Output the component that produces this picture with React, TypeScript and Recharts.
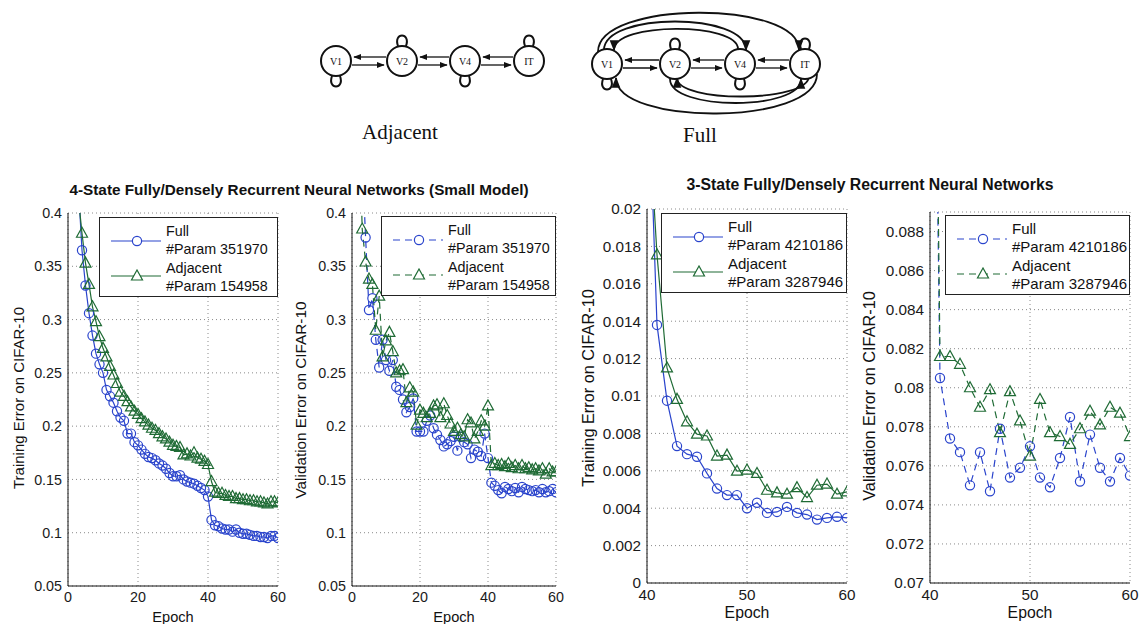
import React from "react";
import { CartesianGrid, Line, LineChart, XAxis, YAxis } from "recharts";

// small model, epochs 1..60
const smallEpochs = [
  1, 2, 3, 4, 5, 6, 7, 8, 9, 10, 11, 12, 13, 14, 15, 16, 17, 18, 19, 20,
  21, 22, 23, 24, 25, 26, 27, 28, 29, 30, 31, 32, 33, 34, 35, 36, 37, 38, 39, 40,
  41, 42, 43, 44, 45, 46, 47, 48, 49, 50, 51, 52, 53, 54, 55, 56, 57, 58, 59, 60,
];
const trainFullSmall = [
  0.62, 0.49, 0.423, 0.365, 0.332, 0.306, 0.285, 0.268, 0.258, 0.25,
  0.234, 0.228, 0.222, 0.214, 0.208, 0.205, 0.193, 0.193, 0.185, 0.182,
  0.178, 0.174, 0.171, 0.17, 0.168, 0.165, 0.163, 0.16, 0.156, 0.153,
  0.153, 0.154, 0.15, 0.148, 0.147, 0.146, 0.144, 0.142, 0.14, 0.134,
  0.112, 0.107, 0.106, 0.104, 0.103, 0.103, 0.101, 0.103, 0.1, 0.099,
  0.099, 0.098, 0.097, 0.097, 0.096, 0.096, 0.095, 0.097, 0.097, 0.095,
];
const trainAdjSmall = [
  0.64, 0.5, 0.413, 0.381, 0.353, 0.333, 0.312, 0.298, 0.284, 0.273,
  0.265, 0.256, 0.248, 0.24, 0.232, 0.228, 0.223, 0.218, 0.214, 0.211,
  0.207, 0.204, 0.201, 0.198, 0.196, 0.193, 0.19, 0.188, 0.185, 0.182,
  0.181, 0.18, 0.173, 0.174, 0.172, 0.175, 0.17, 0.169, 0.167, 0.164,
  0.148, 0.138, 0.137, 0.137, 0.135, 0.134, 0.134, 0.132, 0.132, 0.131,
  0.131, 0.13, 0.13, 0.129, 0.129, 0.128, 0.127, 0.129, 0.129, 0.128,
];
const valFullSmall = [
  0.7, 0.55, 0.45, 0.377, 0.309, 0.32, 0.281, 0.255, 0.281, 0.262,
  0.252, 0.262, 0.237, 0.234, 0.225, 0.213, 0.218, 0.226, 0.195, 0.195,
  0.195, 0.205, 0.21, 0.198, 0.192, 0.187, 0.181, 0.183, 0.186, 0.19,
  0.177, 0.19, 0.185, 0.183, 0.17, 0.178, 0.176, 0.172, 0.193, 0.17,
  0.147, 0.144, 0.14, 0.137, 0.143, 0.141, 0.139, 0.142, 0.138, 0.143,
  0.141, 0.14, 0.139, 0.14, 0.138, 0.141, 0.138, 0.139, 0.141, 0.138,
];
const valAdjSmall = [
  0.6, 0.5, 0.385, 0.354, 0.338, 0.333, 0.29, 0.322, 0.265, 0.28,
  0.288, 0.27, 0.25, 0.252, 0.253, 0.222, 0.236, 0.232, 0.201, 0.215,
  0.212, 0.208, 0.212, 0.219, 0.22, 0.208, 0.221, 0.21, 0.202, 0.195,
  0.198, 0.192, 0.19, 0.206, 0.203, 0.188, 0.195, 0.205, 0.2, 0.219,
  0.163, 0.165, 0.163, 0.164, 0.162, 0.165, 0.161, 0.163, 0.16, 0.163,
  0.16, 0.161, 0.159, 0.16, 0.158, 0.16, 0.155, 0.16, 0.157, 0.157,
];

// 3-state model, epochs 40..60
const bigEpochs = [
  40, 41, 42, 43, 44, 45, 46, 47, 48, 49, 50, 51, 52, 53, 54, 55, 56, 57, 58, 59, 60,
];
const trainFullBig = [
  0.0293, 0.0138, 0.00975, 0.00732, 0.00689, 0.00675, 0.00586, 0.00505, 0.0047, 0.0047,
  0.004, 0.00429, 0.00375, 0.0038, 0.00407, 0.00375, 0.00366, 0.00339, 0.00348, 0.00354, 0.00348,
];
const trainAdjBig = [
  0.0266, 0.01755, 0.0115, 0.00982, 0.00862, 0.00796, 0.00786, 0.00679, 0.00684, 0.00598,
  0.00604, 0.00586, 0.00496, 0.00482, 0.00475, 0.0051, 0.00457, 0.00523, 0.00529, 0.00475, 0.00487,
];
const valFullBig = [
  0.12, 0.0805, 0.0774, 0.0767, 0.075, 0.0767, 0.0747, 0.0779, 0.0754, 0.0759,
  0.077, 0.0754, 0.0749, 0.0764, 0.0785, 0.0752, 0.0776, 0.0759, 0.0752, 0.0764, 0.0755,
];
const valAdjBig = [
  0.125, 0.0816, 0.0816, 0.0812, 0.08, 0.079, 0.0799, 0.0777, 0.0798, 0.0783,
  0.0765, 0.0794, 0.0777, 0.0775, 0.0771, 0.0779, 0.0788, 0.0781, 0.079, 0.0787, 0.0775,
];

const smallYTicks = [0.05, 0.1, 0.15, 0.2, 0.25, 0.3, 0.35, 0.4];
const smallXTicks = [0, 20, 40, 60];
const trainBigYTicks = [0, 0.002, 0.004, 0.006, 0.008, 0.01, 0.012, 0.014, 0.016, 0.018, 0.02];
const valBigYTicks = [0.07, 0.072, 0.074, 0.076, 0.078, 0.08, 0.082, 0.084, 0.086, 0.088];
const bigXTicks = [40, 50, 60];

const smallRows = smallEpochs.map((epoch, i) => ({
  epoch,
  trainFull: trainFullSmall[i],
  trainAdj: trainAdjSmall[i],
  valFull: valFullSmall[i],
  valAdj: valAdjSmall[i],
}));
const bigRows = bigEpochs.map((epoch, i) => ({
  epoch,
  trainFull: trainFullBig[i],
  trainAdj: trainAdjBig[i],
  valFull: valFullBig[i],
  valAdj: valAdjBig[i],
}));

const BLUE = "#2a44cc";
const GREEN = "#1f6b35";
const SANS = "'Liberation Sans', Arial, sans-serif";
const SERIF = "'Liberation Serif', 'Times New Roman', serif";

const circleDot = (color: string) => (p: any) => {
  if (p.cx == null || p.cy == null) return <g key={p.index} />;
  return <circle key={p.index} cx={p.cx} cy={p.cy} r={4.6} fill="none" stroke={color} strokeWidth={1.2} />;
};
const triangleDot = (color: string) => (p: any) => {
  if (p.cx == null || p.cy == null) return <g key={p.index} />;
  const { cx, cy } = p;
  return (
    <polygon
      key={p.index}
      points={`${cx},${cy - 6} ${cx - 5.5},${cy + 4} ${cx + 5.5},${cy + 4}`}
      fill="none"
      stroke={color}
      strokeWidth={1.2}
    />
  );
};

interface PanelProps {
  rows: any[];
  left: number;
  top: number;
  plotW: number;
  plotH: number;
  xDomain: [number, number];
  xTicks: number[];
  yDomain: [number, number];
  yTicks: number[];
  fullKey: string;
  adjKey: string;
  dashed?: boolean;
  fontSize: number;
}

function Panel(p: PanelProps) {
  const dash = p.dashed ? "7 5" : undefined;
  const tick = { fill: "#1a1a1a", fontSize: p.fontSize, fontFamily: SANS };
  return (
    <div style={{ position: "absolute", left: p.left - 60, top: p.top - 10 }}>
      <LineChart
        width={p.plotW + 70}
        height={p.plotH + 40}
        data={p.rows}
        margin={{ top: 10, right: 10, left: 0, bottom: 0 }}
      >
        <CartesianGrid stroke="#8a8a8a" strokeDasharray="1 3" />
        <XAxis
          dataKey="epoch"
          type="number"
          domain={p.xDomain}
          ticks={p.xTicks}
          allowDataOverflow
          height={30}
          tickLine={false}
          tickSize={4}
          tickMargin={2}
          stroke="#111"
          tick={tick}
        />
        <YAxis
          type="number"
          domain={p.yDomain}
          ticks={p.yTicks}
          allowDataOverflow
          width={60}
          tickLine={false}
          tickSize={4}
          tickMargin={2}
          stroke="#111"
          tick={tick}
          tickFormatter={(v: number) => String(v)}
        />
        <Line
          dataKey={p.fullKey}
          stroke={BLUE}
          strokeWidth={1.2}
          strokeDasharray={dash}
          dot={circleDot(BLUE)}
          isAnimationActive={false}
        />
        <Line
          dataKey={p.adjKey}
          stroke={GREEN}
          strokeWidth={1.2}
          strokeDasharray={dash}
          dot={triangleDot(GREEN)}
          isAnimationActive={false}
        />
      </LineChart>
    </div>
  );
}

function LegendBox({ left, top, width, params, dashed, fontSize }: {
  left: number; top: number; width: number; params: [string, string]; dashed?: boolean; fontSize: number;
}) {
  const dash = dashed ? "7 5" : undefined;
  const sample = (color: string, tri: boolean) => (
    <svg width={56} height={14} style={{ position: "absolute", left: 9 }}>
      <line x1={2} y1={7} x2={52} y2={7} stroke={color} strokeWidth={1.2} strokeDasharray={dash} />
      {tri ? (
        <polygon points="28,1 22.5,11 33.5,11" fill="white" stroke={color} strokeWidth={1.2} />
      ) : (
        <circle cx={28} cy={7} r={4.6} fill="white" stroke={color} strokeWidth={1.2} />
      )}
    </svg>
  );
  const lh = 18.3;
  return (
    <div
      style={{
        position: "absolute",
        left,
        top,
        width,
        height: 80,
        boxSizing: "border-box",
        border: "1px solid #222",
        background: "white",
        fontFamily: SANS,
        fontSize,
        color: "#111",
        lineHeight: `${lh}px`,
      }}
    >
      <div style={{ position: "absolute", top: 16 }}>{sample(BLUE, false)}</div>
      <div style={{ position: "absolute", top: 51 }}>{sample(GREEN, true)}</div>
      <div style={{ position: "absolute", left: 66, top: 4, whiteSpace: "nowrap" }}>
        <div>Full</div>
        <div>#Param {params[0]}</div>
        <div>Adjacent</div>
        <div>#Param {params[1]}</div>
      </div>
    </div>
  );
}

function AxisTitle({ x, y, text, rotate, fontSize, bold }: {
  x: number; y: number; text: string; rotate?: boolean; fontSize: number; bold?: boolean;
}) {
  return (
    <div
      style={{
        position: "absolute",
        left: x,
        top: y,
        transform: `translate(-50%, -50%)${rotate ? " rotate(-90deg)" : ""}`,
        whiteSpace: "nowrap",
        fontFamily: SANS,
        fontWeight: bold ? "bold" : "normal",
        fontSize,
        color: "#111",
      }}
    >
      {text}
    </div>
  );
}

type Pt = [number, number];
const R = 15;

function Node({ c, label }: { c: Pt; label: string }) {
  return (
    <g>
      <circle cx={c[0]} cy={c[1]} r={R} fill="white" stroke="#111" strokeWidth={2} />
      <text x={c[0]} y={c[1] + 3.5} textAnchor="middle" fontFamily={SERIF} fontSize={10} fill="#111">
        {label}
      </text>
    </g>
  );
}

function PairArrows({ a, b }: { a: Pt; b: Pt }) {
  const x1 = a[0] + R + 1;
  const x2 = b[0] - R - 1;
  return (
    <g stroke="#111" strokeWidth={1.3}>
      <line x1={x2} y1={a[1] - 4} x2={x1 + 2} y2={a[1] - 4} markerEnd="url(#arr)" />
      <line x1={x1} y1={a[1] + 4} x2={x2 - 2} y2={a[1] + 4} markerEnd="url(#arr)" />
    </g>
  );
}

function Loop({ c, up }: { c: Pt; up: boolean }) {
  const s = up ? -1 : 1;
  const y0 = c[1] + s * R;
  const y1 = y0 + s * 14;
  return (
    <path
      d={`M ${c[0] - 4} ${y0} C ${c[0] - 9} ${y1}, ${c[0] + 9} ${y1}, ${c[0] + 4} ${y0}`}
      fill="none"
      stroke="#111"
      strokeWidth={2}
    />
  );
}

function Diagrams() {
  const a: Pt[] = [[336, 61], [402, 61], [465, 61], [529, 61]];
  const f: Pt[] = [[607, 64], [675, 64], [740, 64], [805, 64]];
  const names = ["V1", "V2", "V4", "IT"];
  const arc = (x1: number, y1: number, x2: number, y2: number, yc: number, cx1 = x1, cx2 = x2) =>
    `M ${x1} ${y1} C ${cx1} ${yc}, ${cx2} ${yc}, ${x2} ${y2}`;
  return (
    <svg width={1139} height={160} style={{ position: "absolute", left: 0, top: 0 }}>
      <defs>
        <marker id="arr" viewBox="0 0 10 10" refX="9" refY="5" markerWidth="6" markerHeight="6" orient="auto-start-reverse">
          <path d="M 0 1 L 10 5 L 0 9 z" fill="#111" />
        </marker>
      </defs>
      {/* adjacent */}
      <PairArrows a={a[0]} b={a[1]} />
      <PairArrows a={a[1]} b={a[2]} />
      <PairArrows a={a[2]} b={a[3]} />
      <Loop c={a[0]} up={false} />
      <Loop c={a[1]} up />
      <Loop c={a[2]} up={false} />
      <Loop c={a[3]} up />
      {a.map((c, i) => <Node key={"a" + i} c={c} label={names[i]} />)}
      {/* full */}
      <g fill="none" stroke="#111" strokeWidth={1.8}>
        <path d={arc(598, 52, 799, 50, 0, 598, 799)} markerEnd="url(#arr)" />
        <path d={arc(604, 50, 746, 50, 12, 604, 746)} markerEnd="url(#arr)" />
        <path d={arc(738, 49, 614, 50, 22, 738, 614)} markerEnd="url(#arr)" />
        <path d={arc(817, 74, 616, 78, 126, 817, 616)} markerEnd="url(#arr)" />
        <path d={arc(670, 79, 801, 79, 111, 670, 801)} markerEnd="url(#arr)" />
        <path d={arc(809, 76, 677, 78, 103, 809, 677)} markerEnd="url(#arr)" />
      </g>
      <PairArrows a={f[0]} b={f[1]} />
      <PairArrows a={f[1]} b={f[2]} />
      <PairArrows a={f[2]} b={f[3]} />
      <Loop c={f[0]} up={false} />
      <Loop c={f[1]} up />
      <Loop c={f[2]} up={false} />
      <Loop c={f[3]} up />
      {f.map((c, i) => <Node key={"f" + i} c={c} label={names[i]} />)}
      <text x={400} y={139} textAnchor="middle" fontFamily={SERIF} fontSize={21} fill="#111">Adjacent</text>
      <text x={700} y={142} textAnchor="middle" fontFamily={SERIF} fontSize={21} fill="#111">Full</text>
    </svg>
  );
}

export default function App() {
  return (
    <div style={{ position: "absolute", left: 0, top: 0, width: 1139, height: 624, background: "white", overflow: "hidden" }}>
      <Diagrams />
      <AxisTitle x={299} y={190} text="4-State Fully/Densely Recurrent Neural Networks (Small Model)" fontSize={15.3} bold />
      <AxisTitle x={870} y={185} text="3-State Fully/Densely Recurrent Neural Networks" fontSize={15.8} bold />

      <Panel rows={smallRows} left={68} top={213} plotW={210} plotH={373} xDomain={[0, 60]} xTicks={smallXTicks}
        yDomain={[0.05, 0.4]} yTicks={smallYTicks} fullKey="trainFull" adjKey="trainAdj" fontSize={14.3} />
      <Panel rows={smallRows} left={352} top={213} plotW={204} plotH={373} xDomain={[0, 60]} xTicks={smallXTicks}
        yDomain={[0.05, 0.4]} yTicks={smallYTicks} fullKey="valFull" adjKey="valAdj" dashed fontSize={14.3} />
      <Panel rows={bigRows} left={647} top={209} plotW={200} plotH={374} xDomain={[40, 60]} xTicks={bigXTicks}
        yDomain={[0, 0.02]} yTicks={trainBigYTicks} fullKey="trainFull" adjKey="trainAdj" fontSize={15.3} />
      <Panel rows={bigRows} left={930} top={212} plotW={200} plotH={371} xDomain={[40, 60]} xTicks={bigXTicks}
        yDomain={[0.07, 0.089]} yTicks={valBigYTicks} fullKey="valFull" adjKey="valAdj" dashed fontSize={15.3} />

      <LegendBox left={99} top={217} width={179} params={["351970", "154958"]} fontSize={14.3} />
      <LegendBox left={381} top={216} width={175} params={["351970", "154958"]} dashed fontSize={14.3} />
      <LegendBox left={661} top={213} width={186} params={["4210186", "3287946"]} fontSize={15} />
      <LegendBox left={945} top={215} width={185} params={["4210186", "3287946"]} dashed fontSize={15} />

      <AxisTitle x={18} y={398} text="Training Error on CIFAR-10" rotate fontSize={15} />
      <AxisTitle x={301} y={400} text="Validation Error on CIFAR-10" rotate fontSize={15.3} />
      <AxisTitle x={588} y={388} text="Training Error on CIFAR-10" rotate fontSize={16.3} />
      <AxisTitle x={869} y={396} text="Validation Error on CIFAR-10" rotate fontSize={16.3} />

      <AxisTitle x={173} y={617} text="Epoch" fontSize={14.6} />
      <AxisTitle x={454} y={617} text="Epoch" fontSize={14.6} />
      <AxisTitle x={747} y={613} text="Epoch" fontSize={15.8} />
      <AxisTitle x={1030} y={613} text="Epoch" fontSize={15.8} />
    </div>
  );
}
